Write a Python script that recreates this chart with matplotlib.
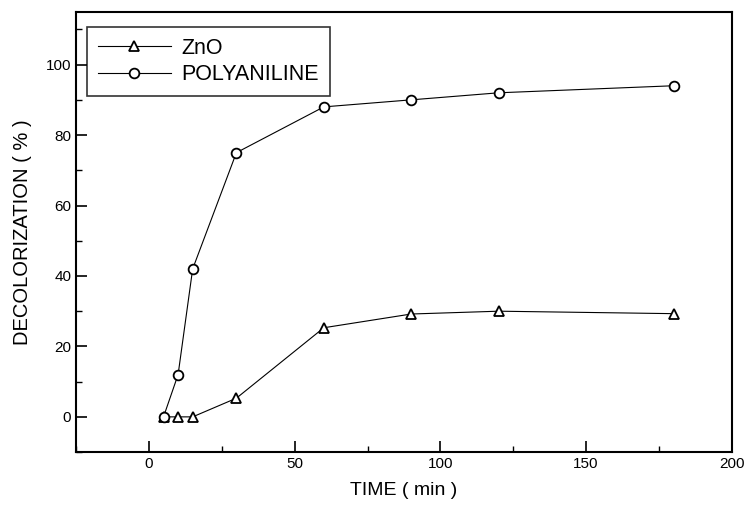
import numpy as np
import matplotlib
matplotlib.use('Agg')
import matplotlib.pyplot as plt
from matplotlib.ticker import MultipleLocator

plt.rcParams['font.family'] = ['Liberation Sans', 'DejaVu Sans']

czas = [5, 10, 15, 30, 60, 90, 120, 180]
zno = [0, 0, 0, 5.3, 25.3, 29.2, 30, 29.3]
polianilina = [0, 12, 42, 75, 88, 90, 92, 94]

fig = plt.figure(figsize=(7.46, 5.12), dpi=100)
ax = fig.add_axes([0.102, 0.117, 0.879, 0.86])

ax.plot(czas, zno, '-', color='black', lw=0.8, marker='^', ms=7,
        mfc='white', mec='black', mew=1.3, label='ZnO')
ax.plot(czas, polianilina, '-', color='black', lw=0.8, marker='o', ms=7,
        mfc='white', mec='black', mew=1.3, label='POLYANILINE')

ax.set_xlim(-25, 200)
ax.set_ylim(-10, 115)
ax.xaxis.set_major_locator(MultipleLocator(50))
ax.xaxis.set_minor_locator(MultipleLocator(25))
ax.yaxis.set_major_locator(MultipleLocator(20))
ax.yaxis.set_minor_locator(MultipleLocator(10))
ax.tick_params(which='major', direction='in', length=8, width=1.2, labelsize=11)
ax.tick_params(which='minor', direction='in', length=4, width=1)
for s in ax.spines.values():
    s.set_linewidth(1.5)

ax.set_xlabel('TIME ( min )', fontsize=14, labelpad=8)
ax.set_ylabel('DECOLORIZATION ( % )', fontsize=14.5, labelpad=10)

leg = ax.legend(loc='upper left', bbox_to_anchor=(0.0, 0.99), fontsize=15.5,
                frameon=True, fancybox=False, edgecolor='black',
                handlelength=3.4, borderpad=0.5, labelspacing=0.25,
                handletextpad=0.5)
leg.get_frame().set_linewidth(1.2)

plt.savefig('out.png', dpi=100)
